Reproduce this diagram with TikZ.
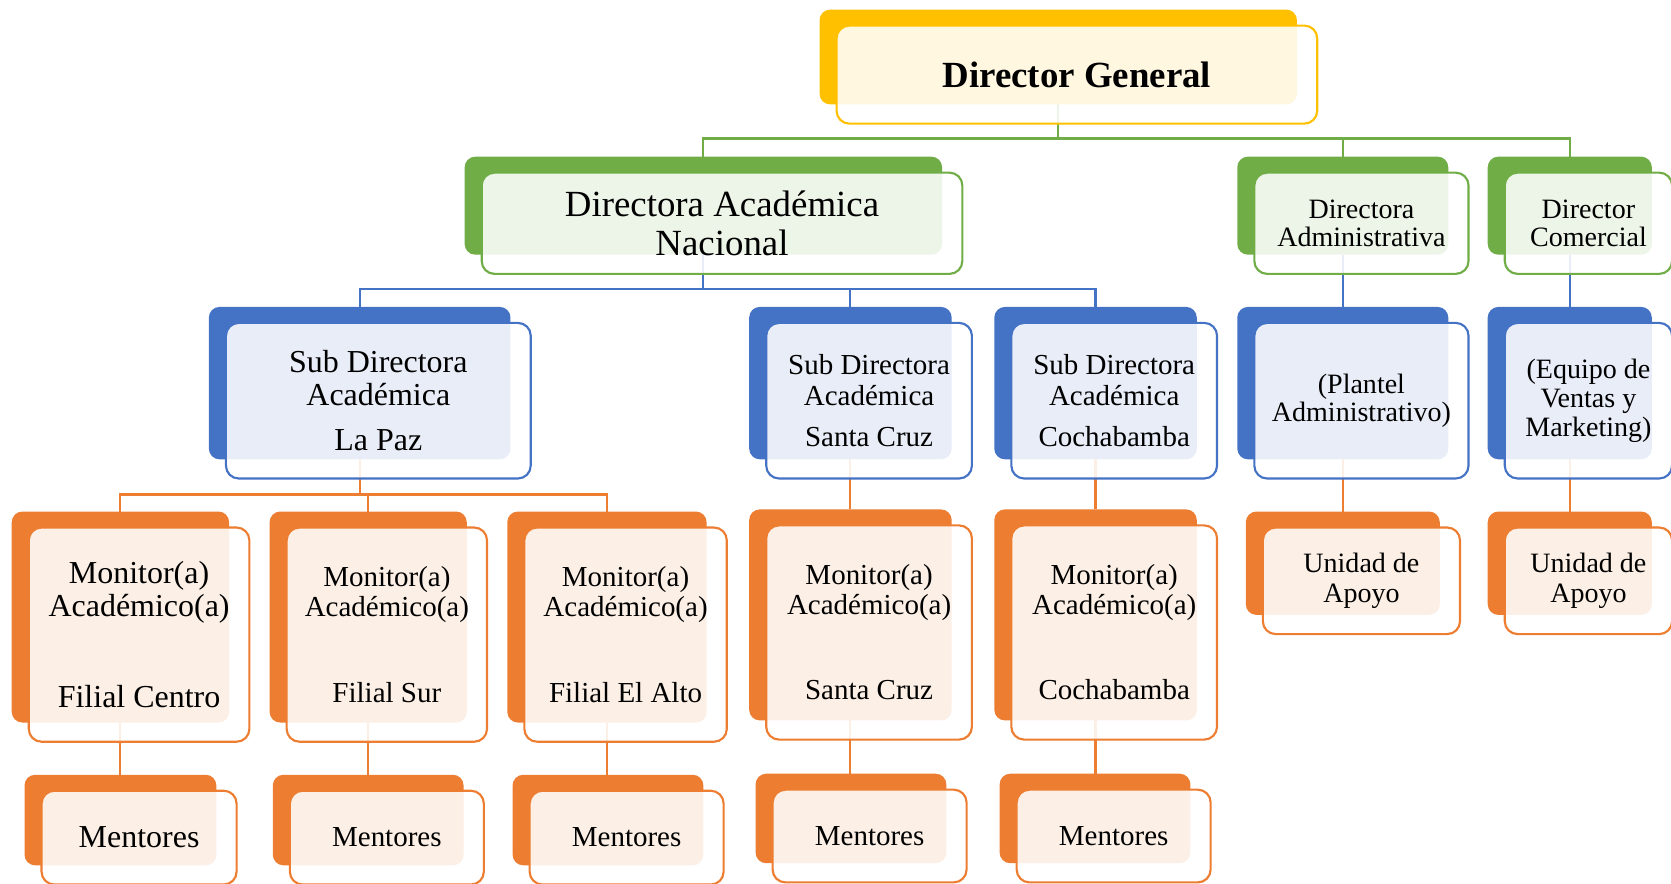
\documentclass[tikz,border=0pt]{standalone}
\usepackage{fontspec}
\setmainfont{Liberation Serif}
\usetikzlibrary{backgrounds, calc}
\definecolor{orgyellow}{RGB}{255, 192, 0}
\definecolor{orggreen}{RGB}{112, 173, 71}
\definecolor{orgblue}{RGB}{68, 114, 196}
\definecolor{orgorange}{RGB}{237, 125, 49}

\newcommand{\fsz}[2]{\fontsize{#1}{#2}\selectfont}
% name, colour, x, y, width, height, font, text
\newcommand{\orgbox}[8]{%
  \node[backbox=#2, minimum width=#5pt, minimum height=#6pt] (#1) at (#3,#4) {};
  \node[frontbox=#2, minimum width=#5pt+3pt, minimum height=#6pt+3pt, font=#7]
    (#1-t) at ([shift={(17.5,16.5)}]#1.center) {#8};
}

\tikzset{
  backbox/.style={fill=#1, rounded corners=10pt, inner sep=0pt, outer sep=0pt},
  frontbox/.style={draw=#1, line width=2pt, fill=white, fill opacity=0.88,
    text opacity=1, rounded corners=12pt, align=center, inner sep=0pt, outer sep=0pt},
  link/.style={draw=#1, line width=2pt},
}

\begin{document}
\begin{tikzpicture}[x=1pt, y=-1pt]
  \useasboundingbox (0,0) rectangle (1568,829);

  % level 0 and 1
  \orgbox{dg}{orgyellow}{993}{53.5}{448}{89}{\bfseries\fsz{34.6}{36}}{Director General}
  \orgbox{dan}{orggreen}{660}{193}{448}{92}{\fsz{34.6}{36}}{Directora Académica\\Nacional}
  \orgbox{dadm}{orggreen}{1260}{193}{198}{92}{\fsz{26.3}{27}}{Directora\\Administrativa}
  \orgbox{dcom}{orggreen}{1473}{193}{154}{92}{\fsz{26.3}{27}}{Director\\Comercial}

  % level 2
  \orgbox{sdlp}{orgblue}{337.5}{359.5}{283}{143}{\fsz{30}{31}}{Sub Directora\\Académica\\[11pt]La Paz}
  \orgbox{sdsc}{orgblue}{798}{359.5}{190}{143}{\fsz{27.2}{29}}{Sub Directora\\Académica\\[10pt]Santa Cruz}
  \orgbox{sdcb}{orgblue}{1028}{359.5}{190}{143}{\fsz{27.2}{29}}{Sub Directora\\Académica\\[10pt]Cochabamba}
  \orgbox{plantel}{orgblue}{1260}{359.5}{198}{143}{\fsz{26.3}{27}}{(Plantel\\Administrativo)}
  \orgbox{equipo}{orgblue}{1473}{359.5}{154}{143}{\fsz{26.3}{27}}{(Equipo de\\Ventas y\\Marketing)}

  % level 3
  \orgbox{monc}{orgorange}{113}{579}{204}{198}{\fsz{30}{31}}{Monitor(a)\\Académico(a)\\[55pt]Filial Centro}
  \orgbox{mons}{orgorange}{345.5}{579}{185}{198}{\fsz{27.2}{28}}{Monitor(a)\\Académico(a)\\[52pt]Filial Sur}
  \orgbox{mona}{orgorange}{569.5}{579}{187}{198}{\fsz{27.2}{28}}{Monitor(a)\\Académico(a)\\[52pt]Filial El Alto}
  \orgbox{monsc}{orgorange}{798}{577}{190}{198}{\fsz{27.2}{28}}{Monitor(a)\\Académico(a)\\[52pt]Santa Cruz}
  \orgbox{moncb}{orgorange}{1028}{577}{190}{198}{\fsz{27.2}{28}}{Monitor(a)\\Académico(a)\\[52pt]Cochabamba}
  \orgbox{apadm}{orgorange}{1260}{528.5}{182}{97}{\fsz{26.3}{28}}{Unidad de\\Apoyo}
  \orgbox{apcom}{orgorange}{1473}{528.5}{154}{97}{\fsz{26.3}{28}}{Unidad de\\Apoyo}

  % level 4
  \orgbox{menc}{orgorange}{113}{769.5}{180}{85}{\fsz{30}{31}}{Mentores}
  \orgbox{mens}{orgorange}{345.5}{769.5}{179}{85}{\fsz{27.2}{28}}{Mentores}
  \orgbox{mena}{orgorange}{570.5}{769.5}{179}{85}{\fsz{27.2}{28}}{Mentores}
  \orgbox{mensc}{orgorange}{798.5}{768}{179}{84}{\fsz{27.2}{28}}{Mentores}
  \orgbox{mencb}{orgorange}{1027.5}{768}{179}{84}{\fsz{27.2}{28}}{Mentores}

  \coordinate (gbus) at (0,130);
  \coordinate (bbus) at (0,271);
  \coordinate (obus) at (0,464);

  \begin{scope}[on background layer]
    \foreach \c in {dan,dadm,dcom}
      \draw[link=orggreen] (dg.south) -- (dg.south |- gbus) -| (\c.north);
    \foreach \c in {sdlp,sdsc,sdcb}
      \draw[link=orgblue] (dan.south) -- (dan.south |- bbus) -| (\c.north);
    \foreach \c in {monc,mons,mona}
      \draw[link=orgorange] (sdlp.south) -- (sdlp.south |- obus) -| (\c.north);
    \foreach \a/\b in {dadm/plantel,dcom/equipo}
      \draw[link=orgblue] (\a.south) -- (\a.south |- \b.north);
    \foreach \a/\b in {plantel/apadm,equipo/apcom,sdsc/monsc,sdcb/moncb,
                       monc/menc,mons/mens,mona/mena,monsc/mensc,moncb/mencb}
      \draw[link=orgorange] (\a.south) -- (\a.south |- \b.north);
  \end{scope}
\end{tikzpicture}
\end{document}
